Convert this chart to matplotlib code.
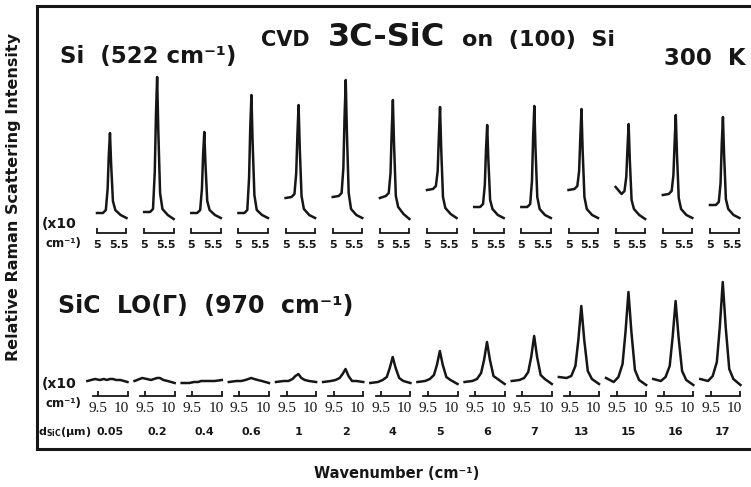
import matplotlib
matplotlib.use("Agg")
import matplotlib.pyplot as plt
from matplotlib.transforms import blended_transform_factory, ScaledTranslation

plt.rcParams["font.family"] = "DejaVu Sans"
plt.rcParams["font.weight"] = "bold"
plt.rcParams["mathtext.fontset"] = "dejavusans"

# Si (522 cm-1) spectra, wavenumber grid and intensities (arb. units)
si_wn = [500, 510, 515, 518, 520, 522, 524, 527, 531, 540, 550]
si_int = [
    [0, 0, 3, 24, 58, 80, 48, 12, 3, -2, -5],
    [1, 1, 4, 41, 98, 136, 82, 20, 4, -2, -6],
    [0, 0, 3, 24, 58, 81, 49, 12, 3, -2, -5],
    [0, 0, 3, 35, 85, 118, 71, 18, 3, -2, -5],
    [15, 16, 19, 40, 78, 108, 65, 17, 4, -2, -5],
    [16, 17, 20, 45, 96, 133, 80, 20, 4, -2, -5],
    [15, 17, 20, 40, 81, 113, 68, 17, 6, -1, -6],
    [23, 24, 27, 42, 76, 106, 64, 16, 5, -1, -5],
    [6, 6, 9, 28, 63, 88, 53, 13, 4, -2, -5],
    [6, 6, 9, 32, 77, 107, 64, 16, 4, -2, -5],
    [23, 24, 27, 42, 75, 104, 62, 16, 4, -2, -5],
    [26, 19, 22, 36, 64, 89, 53, 13, 4, -2, -6],
    [18, 19, 22, 38, 70, 98, 59, 15, 4, -2, -5],
    [8, 8, 11, 30, 69, 96, 58, 14, 4, -2, -5],
]

# SiC LO (970 cm-1) spectra
sic_wn = [932, 945, 953, 960, 965, 970, 975, 981, 988, 1000]
sic_int = [
    [1, 3, 2, 3, 2, 3, 3, 2, 2, 0],
    [1, 4, 3, 2, 3, 4, 4, 2, 1, -1],
    [-1, -1, 0, 0, 1, 1, 1, 1, 1, 2],
    [0, 1, 1, 2, 3, 4, 3, 2, 1, -1],
    [0, 1, 1, 3, 6, 8, 4, 2, 1, 0],
    [0, 1, 2, 4, 8, 13, 6, 1, 1, 0],
    [-1, 0, 2, 5, 14, 25, 14, 4, 1, -1],
    [0, 1, 3, 7, 17, 31, 17, 5, 2, -2],
    [0, 1, 3, 9, 22, 40, 22, 6, 3, -2],
    [1, 2, 4, 10, 25, 46, 25, 7, 3, -2],
    [5, 4, 6, 16, 42, 76, 42, 11, 3, -2],
    [4, 0, 5, 18, 50, 90, 50, 12, 2, -3],
    [3, 1, 5, 16, 45, 81, 45, 11, 2, -3],
    [3, 1, 6, 20, 55, 100, 55, 13, 3, -3],
]

thickness = ["0.05", "0.2", "0.4", "0.6", "1", "2", "4", "5", "6", "7",
             "13", "15", "16", "17"]

ink = "#161616"
W, H = 751, 487
fig = plt.figure(figsize=(W / 100, H / 100), dpi=100)


def box(x0, y0, x1, y1):
    # pixel box (from top-left) -> figure fraction rect
    return [x0 / W, 1 - y1 / H, (x1 - x0) / W, (y1 - y0) / H]


def ftext(x, y, s, **kw):
    fig.text(x / W, 1 - y / H, s, color=ink, **kw)


# outer frame
frame = fig.add_axes(box(37, 6, 751, 449))
frame.set_xticks([])
frame.set_yticks([])
frame.spines["right"].set_visible(False)
for s in ["left", "top", "bottom"]:
    frame.spines[s].set_linewidth(2.2)
    frame.spines[s].set_color(ink)


def bar_axis(ax, lo, hi, ticks, labels, font, pad, shift):
    ax.patch.set_visible(False)
    for s in ["top", "right", "left"]:
        ax.spines[s].set_visible(False)
    ax.spines["bottom"].set_bounds(lo, hi)
    ax.spines["bottom"].set_linewidth(1.3)
    ax.spines["bottom"].set_color(ink)
    ax.set_yticks([])
    ax.set_xticks(ticks)
    ax.set_xticklabels(labels, **font)
    ax.tick_params(axis="x", direction="in", length=3.5, width=1.3,
                   color=ink, labelcolor=ink, pad=pad)
    lab = ax.get_xticklabels()[-1]
    lab.set_transform(lab.get_transform()
                      + ScaledTranslation(shift / 100, 0, fig.dpi_scale_trans))


pitch = 47.15
scale = 0.59  # px per cm-1

for i in range(14):
    # Si row
    x0 = 97 + pitch * i - (500 - 494) * scale
    ax = fig.add_axes(box(x0, 73, x0 + (560 - 494) * scale, 233))
    ax.set_xlim(494, 560)
    ax.set_ylim(-20, 140)
    ax.plot(si_wn, si_int[i], color=ink, lw=1.8, solid_joinstyle="round")
    bar_axis(ax, 500, 550, [500, 550], ["5", "5.5"],
             dict(fontsize=8, fontweight="bold"), 5, -8)

    # SiC row
    x0 = 98 + pitch * i - (950 - 928) * scale
    ax = fig.add_axes(box(x0, 277, x0 + (1004 - 928) * scale, 396))
    ax.set_xlim(928, 1004)
    ax.set_ylim(-14, 105)
    ax.plot(sic_wn, sic_int[i], color=ink, lw=1.8, solid_joinstyle="round")
    bar_axis(ax, 941, 1000, [950, 1000], ["9.5", "10"],
             dict(fontsize=11, fontweight="normal", family="Liberation Serif"),
             4, -6)
    tr = blended_transform_factory(ax.transData, fig.transFigure)
    ax.text(970, 1 - 435 / H, thickness[i], transform=tr, ha="center",
            va="baseline", fontsize=8, color=ink, clip_on=False)

# titles and labels
ftext(261, 46, "CVD", fontsize=15, va="baseline")
ftext(328, 46, "3C-SiC", fontsize=23, va="baseline")
ftext(462, 46, "on  (100)  Si", fontsize=16, va="baseline")
ftext(60, 63, "Si  (522 cm⁻¹)", fontsize=16.5, va="baseline")
ftext(664, 65, "300  K", fontsize=16.5, va="baseline")
ftext(58, 313, "SiC  LO(Γ)  (970  cm⁻¹)", fontsize=17, va="baseline")

for yb in (228, 388):
    ftext(42, yb, "(x10", fontsize=10, va="baseline")
    ftext(45, yb + 19, "cm⁻¹)", fontsize=8.5, va="baseline")
ftext(38, 435, r"d$_\mathbf{SiC}$(µm)", fontsize=8, va="baseline")

ftext(14, 197, "Relative Raman Scattering Intensity", fontsize=11.5,
      rotation=90, ha="center", va="center")
ftext(397, 478, "Wavenumber (cm⁻¹)", fontsize=10.5, ha="center",
      va="baseline")

fig.savefig("out.png", dpi=100)
